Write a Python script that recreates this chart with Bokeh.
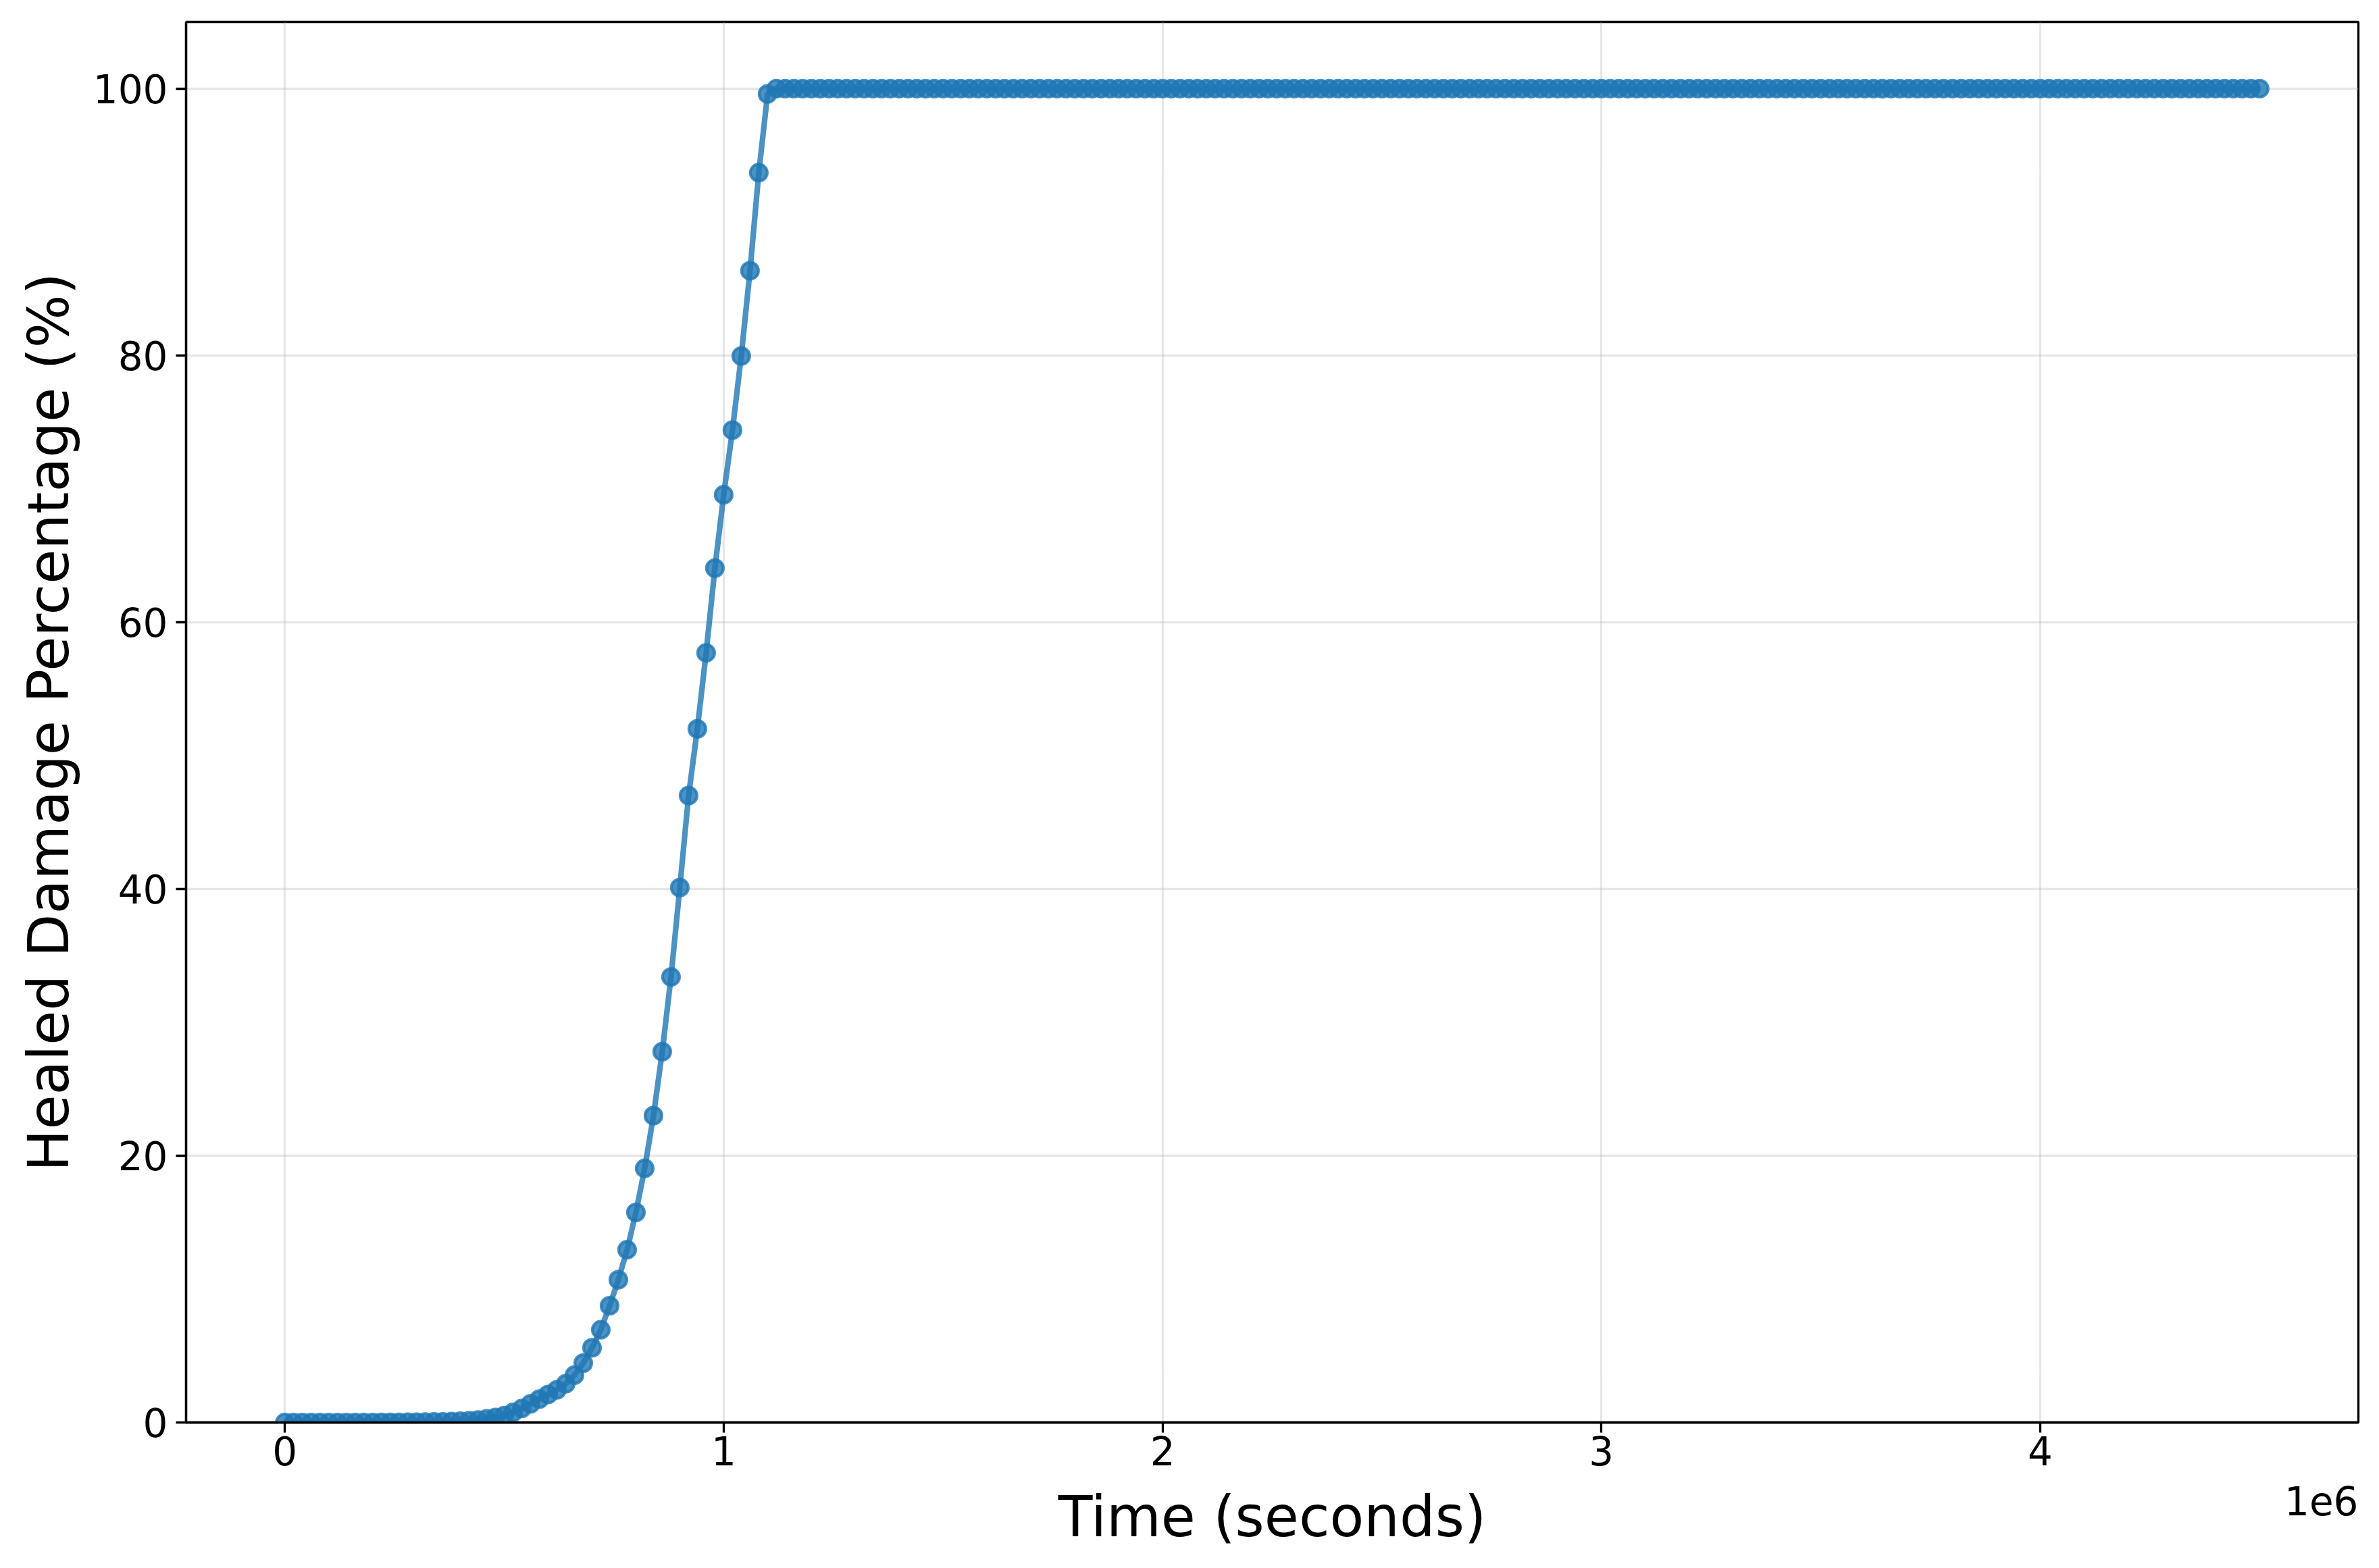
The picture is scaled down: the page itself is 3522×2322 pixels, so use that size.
from bokeh.plotting import figure
from bokeh.models import Range1d, FixedTicker, LinearAxis, ColumnDataSource
from bokeh.embed import file_html
from bokeh.resources import INLINE

# ---- data ----
time_s = list(range(0, 4_500_001, 20_000))  # sampling grid, 226 samples

healed_pct = [
    0.0, 0.0, 0.0, 0.0, 0.0, 0.0, 0.0, 0.0, 0.0, 0.0,          # 0.00 - 0.18 e6
    0.0, 0.01, 0.01, 0.01, 0.02, 0.02, 0.03, 0.04, 0.05, 0.07,  # 0.20 - 0.38 e6
    0.10, 0.14, 0.19, 0.27, 0.37, 0.52, 0.75, 1.05, 1.40, 1.75,  # 0.40 - 0.58 e6
    2.10, 2.45, 2.90, 3.55, 4.45, 5.6, 6.95, 8.75, 10.7, 12.95,  # 0.60 - 0.78 e6
    15.75, 19.05, 23.0, 27.8, 33.4, 40.1, 47.0, 52.0, 57.7, 64.05,  # 0.80 - 0.98 e6
    69.55, 74.4, 79.95, 86.35, 93.7, 99.6,                       # 1.00 - 1.10 e6
    100.0, 100.0, 100.0, 100.0, 100.0, 100.0, 100.0, 100.0, 100.0, 100.0,
    100.0, 100.0, 100.0, 100.0, 100.0, 100.0, 100.0, 100.0, 100.0, 100.0,
    100.0, 100.0, 100.0, 100.0, 100.0, 100.0, 100.0, 100.0, 100.0, 100.0,
    100.0, 100.0, 100.0, 100.0, 100.0, 100.0, 100.0, 100.0, 100.0, 100.0,
    100.0, 100.0, 100.0, 100.0, 100.0, 100.0, 100.0, 100.0, 100.0, 100.0,
    100.0, 100.0, 100.0, 100.0, 100.0, 100.0, 100.0, 100.0, 100.0, 100.0,
    100.0, 100.0, 100.0, 100.0, 100.0, 100.0, 100.0, 100.0, 100.0, 100.0,
    100.0, 100.0, 100.0, 100.0, 100.0, 100.0, 100.0, 100.0, 100.0, 100.0,
    100.0, 100.0, 100.0, 100.0, 100.0, 100.0, 100.0, 100.0, 100.0, 100.0,
    100.0, 100.0, 100.0, 100.0, 100.0, 100.0, 100.0, 100.0, 100.0, 100.0,
    100.0, 100.0, 100.0, 100.0, 100.0, 100.0, 100.0, 100.0, 100.0, 100.0,
    100.0, 100.0, 100.0, 100.0, 100.0, 100.0, 100.0, 100.0, 100.0, 100.0,
    100.0, 100.0, 100.0, 100.0, 100.0, 100.0, 100.0, 100.0, 100.0, 100.0,
    100.0, 100.0, 100.0, 100.0, 100.0, 100.0, 100.0, 100.0, 100.0, 100.0,
    100.0, 100.0, 100.0, 100.0, 100.0, 100.0, 100.0, 100.0, 100.0, 100.0,
    100.0, 100.0, 100.0, 100.0, 100.0, 100.0, 100.0, 100.0, 100.0, 100.0,
    100.0, 100.0, 100.0, 100.0, 100.0, 100.0, 100.0, 100.0, 100.0, 100.0,
]

x_ticks = [0, 1_000_000, 2_000_000, 3_000_000, 4_000_000]
x_tick_labels = ["0", "1", "2", "3", "4"]
y_ticks = [0, 20, 40, 60, 80, 100]
x_label = "Time (seconds)"
y_label = "Healed Damage Percentage (%)"
offset_text = "1e6"

n = min(len(time_s), len(healed_pct))
src = ColumnDataSource(dict(t=time_s[:n], v=healed_pct[:n]))

FONT = "DejaVu Sans"
BLUE = "#1f77b4"
TICK_PX = "58px"
LABEL_PX = "83px"

W, H = 3506, 2306
BL, BR, BT, BB = 275, 15, 32, 200
FRAME_W = W - BL - BR

span = max(time_s) - min(time_s)
xr = Range1d(min(time_s) - 0.05 * span, max(time_s) + 0.05 * span)
yr = Range1d(0, 105)

p = figure(width=W, height=H, x_range=xr, y_range=yr,
           output_backend="svg", toolbar_location=None,
           min_border_left=BL, min_border_right=BR,
           min_border_top=BT, min_border_bottom=BB)
p.background_fill_color = "white"
p.border_fill_color = "white"
p.outline_line_color = "black"
p.outline_line_width = 3.3

p.line("t", "v", source=src, line_color=BLUE, line_width=8.3, line_alpha=0.8)
p.scatter("t", "v", source=src, size=25, fill_color=BLUE, fill_alpha=0.8,
          line_color=BLUE, line_alpha=0.8, line_width=4.2)

xaxis = p.xaxis[0]
yaxis = p.yaxis[0]

xaxis.ticker = FixedTicker(ticks=x_ticks)
yaxis.ticker = FixedTicker(ticks=y_ticks)
xaxis.major_label_overrides = {t: s for t, s in zip(x_ticks, x_tick_labels)}
xaxis.axis_label = None
yaxis.axis_label = y_label

for ax in (xaxis, yaxis):
    ax.axis_line_color = "black"
    ax.axis_line_width = 3.3
    ax.major_tick_line_color = "black"
    ax.major_tick_line_width = 3.3
    ax.major_tick_out = 15
    ax.major_tick_in = 0
    ax.minor_tick_line_color = None
    ax.major_label_text_font = FONT
    ax.major_label_text_font_size = TICK_PX
    ax.major_label_text_color = "black"
    ax.axis_label_text_font = FONT
    ax.axis_label_text_font_size = LABEL_PX
    ax.axis_label_text_font_style = "normal"
    ax.axis_label_text_color = "black"

xaxis.major_label_standoff = 5
yaxis.major_label_standoff = 12
yaxis.axis_label_standoff = 14
yaxis.major_label_orientation = "horizontal"

# second, line-less axis below: carries the "1e6" offset text (right-aligned
# to the frame edge) and the x-axis title on the same band, like matplotlib
offset_w_px = 1.887 * 58  # advance width of "1e6" at 58px DejaVu Sans
offset_tick = round(xr.end - (offset_w_px / 2) * (xr.end - xr.start) / FRAME_W)
ax2 = LinearAxis(ticker=FixedTicker(ticks=[offset_tick]),
                 major_label_overrides={offset_tick: offset_text},
                 axis_label=x_label)
ax2.axis_line_color = None
ax2.major_tick_line_color = None
ax2.minor_tick_line_color = None
ax2.major_tick_out = 0
ax2.major_tick_in = 0
ax2.major_label_standoff = 28
ax2.axis_label_standoff = -49
ax2.major_label_text_font = FONT
ax2.major_label_text_font_size = TICK_PX
ax2.major_label_text_color = "black"
ax2.axis_label_text_font = FONT
ax2.axis_label_text_font_size = LABEL_PX
ax2.axis_label_text_font_style = "normal"
ax2.axis_label_text_color = "black"
p.add_layout(ax2, "below")

for g in (p.xgrid[0], p.ygrid[0]):
    g.grid_line_color = "#b0b0b0"
    g.grid_line_alpha = 0.3
    g.grid_line_width = 3.3
p.xgrid[0].ticker = FixedTicker(ticks=x_ticks)
p.ygrid[0].ticker = FixedTicker(ticks=y_ticks)

open("out.html", "w").write(file_html(p, INLINE))
